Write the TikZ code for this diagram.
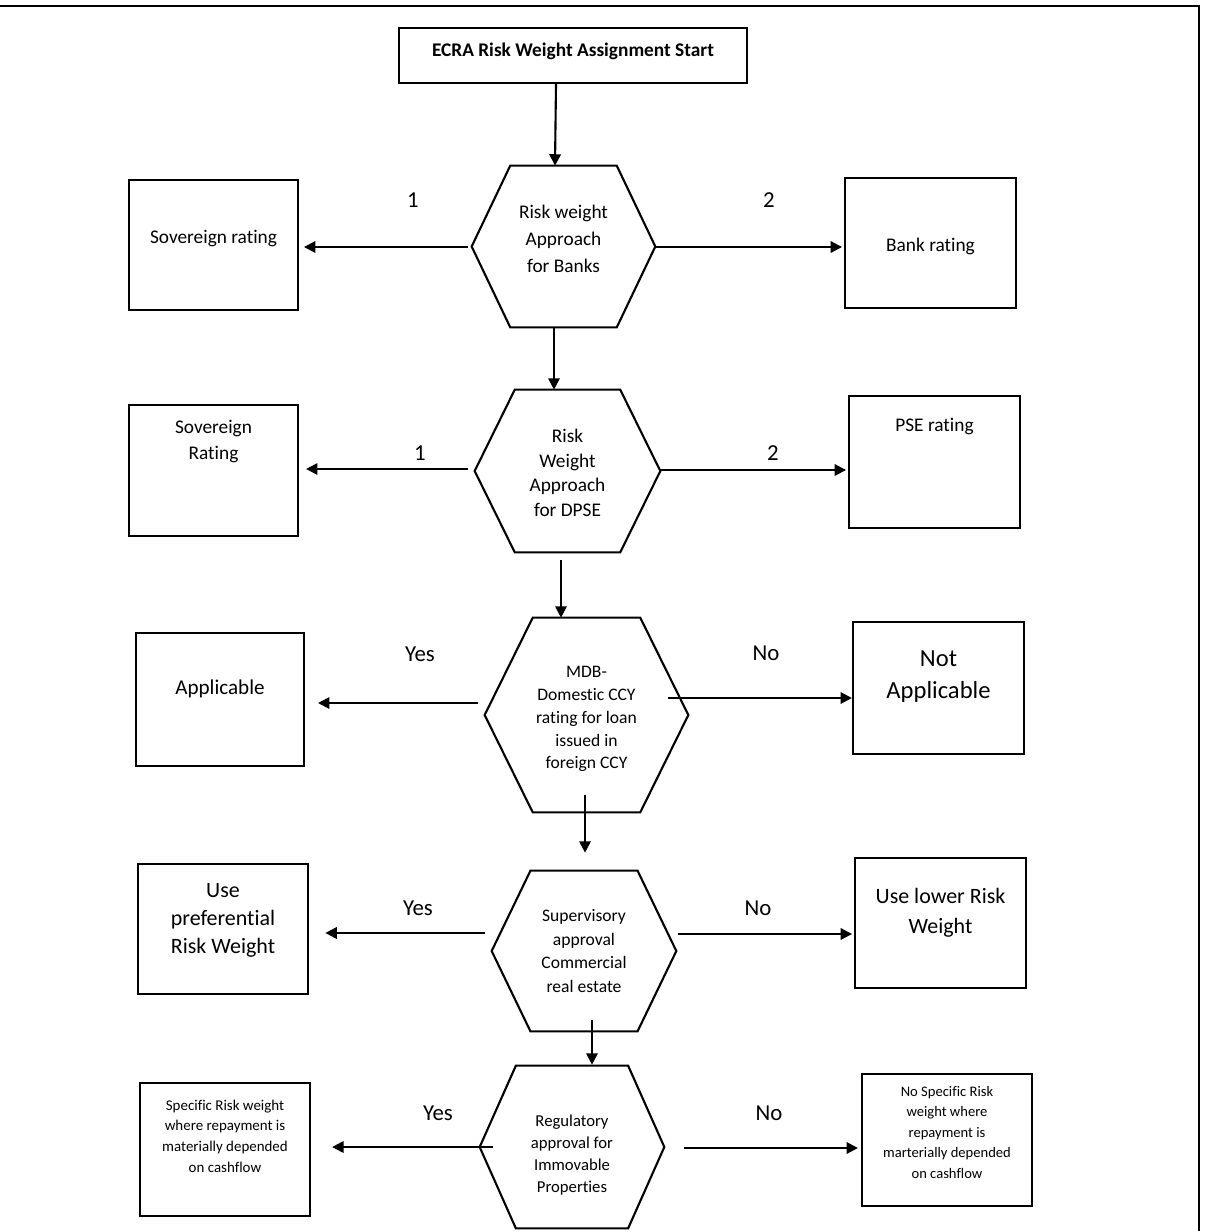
\documentclass[tikz,border=0pt]{standalone}
\usepackage{fontspec}
\setmainfont{Carlito}[Ligatures={NoCommon}]
\usetikzlibrary{arrows.meta,calc}
\newcommand\ctext[3]{\raisebox{#1}[0pt][0pt]{\parbox[c]{#2}{\centering #3}}}
\newcommand\hexpath[2]{%
  \draw[hexline] (#1.west) -- ($(#1.north west)!#2!(#1.north east)$) -- ($(#1.north east)!#2!(#1.north west)$) -- (#1.east) -- ($(#1.south east)!#2!(#1.south west)$) -- ($(#1.south west)!#2!(#1.south east)$) -- cycle;}
\begin{document}
\begin{tikzpicture}[x=0.02cm,y=-0.02cm,
  bx/.style={draw, line width=1.2pt, inner sep=0pt, rectangle},
  hexn/.style={inner sep=0pt, rectangle},
  hexline/.style={line width=1.2pt, line join=miter},
  arr/.style={line width=1.2pt, -{Triangle[length=6.5pt,width=6.5pt]}},
  lbl/.style={inner sep=0pt, font=\fontsize{13}{15}\selectfont},
]
\useasboundingbox (0,0) rectangle (1205,1231);
\draw[line width=1.4pt, line join=miter] (0,6) -- (1199,6) -- (1199,1231);

% boxes
\node[bx, minimum width=6.96cm, minimum height=1.1cm, font=\bfseries\fontsize{11}{14}\selectfont] (start) at (573,55.5)
  {\ctext{-0.2pt}{6.8cm}{ECRA Risk Weight Assignment Start}};
\node[bx, minimum width=3.38cm, minimum height=2.6cm, font=\fontsize{11}{15}\selectfont] (sov1) at (213.5,245)
  {\ctext{1.2pt}{3.3cm}{Sovereign rating}};
\node[bx, minimum width=3.42cm, minimum height=2.6cm, font=\fontsize{11}{15}\selectfont] (bank) at (930.5,243)
  {\ctext{-4.5pt}{3.3cm}{Bank rating}};
\node[bx, minimum width=3.38cm, minimum height=2.62cm, font=\fontsize{11}{14.8}\selectfont] (sov2) at (213.5,470.5)
  {\ctext{14pt}{3.3cm}{Sovereign\\Rating}};
\node[bx, minimum width=3.42cm, minimum height=2.64cm, font=\fontsize{11}{15}\selectfont] (pse) at (934.5,462)
  {\ctext{17.7pt}{3.3cm}{PSE rating}};
\node[bx, minimum width=3.36cm, minimum height=2.66cm, font=\fontsize{12}{15}\selectfont] (app) at (220,699.5)
  {\ctext{3pt}{3.3cm}{Applicable}};
\node[bx, minimum width=3.42cm, minimum height=2.64cm, font=\fontsize{14}{18.2}\selectfont] (notapp) at (938.5,688)
  {\ctext{2.8pt}{3.3cm}{Not\\Applicable}};
\node[bx, line width=1.6pt, minimum width=3.4cm, minimum height=2.6cm, font=\fontsize{12.5}{16}\selectfont] (pref) at (223,929)
  {\ctext{2pt}{3.3cm}{Use\\preferential\\Risk Weight}};
\node[bx, minimum width=3.42cm, minimum height=2.6cm, font=\fontsize{12.5}{17}\selectfont] (lower) at (940.5,923)
  {\ctext{2.6pt}{3.3cm}{Use lower Risk\\Weight}};
\node[bx, minimum width=3.4cm, minimum height=2.66cm, font=\fontsize{8.5}{11.8}\selectfont] (spec) at (225,1149.5)
  {\ctext{5.6pt}{3.3cm}{Specific Risk weight\\where repayment is\\materially depended\\on cashflow}};
\node[bx, minimum width=3.4cm, minimum height=2.64cm, font=\fontsize{8.3}{11.7}\selectfont] (nospec) at (947,1140)
  {\ctext{2.4pt}{3.3cm}{No Specific Risk\\weight where\\repayment is\\marterially depended\\on cashflow}};

% hexagons
\node[hexn, minimum width=3.66cm, minimum height=3.22cm, font=\fontsize{11}{15.4}\selectfont] (h1) at (563.5,246.5)
  {\ctext{1.5pt}{3cm}{Risk weight\\Approach\\for Banks}};
\hexpath{h1}{0.21}
\node[hexn, minimum width=3.7cm, minimum height=3.24cm, font=\fontsize{11}{14}\selectfont] (h2) at (567.5,471)
  {\ctext{-3.9pt}{3cm}{Risk\\Weight\\Approach\\for DPSE}};
\hexpath{h2}{0.216}
\node[hexn, minimum width=4.06cm, minimum height=3.88cm, font=\fontsize{10}{13}\selectfont] (h3) at (586.5,715)
  {\ctext{-4.8pt}{3.2cm}{MDB-\\Domestic CCY\\rating for loan\\issued in\\foreign CCY}};
\hexpath{h3}{0.236}
\node[hexn, minimum width=3.68cm, minimum height=3.2cm, font=\fontsize{10}{13.3}\selectfont] (h4) at (584,951)
  {\ctext{-2.5pt}{3cm}{Supervisory\\approval\\Commercial\\real estate}};
\hexpath{h4}{0.21}
\node[hexn, minimum width=3.68cm, minimum height=3.24cm, font=\fontsize{9.5}{12.5}\selectfont] (h5) at (572,1147)
  {\ctext{-7pt}{3cm}{Regulatory\\approval for\\Immovable\\Properties}};
\hexpath{h5}{0.196}

% connectors
\draw[arr] ([shift={(-17,0)}]start.south) -- ([shift={(-8.5,0)}]h1.north);
\draw[arr, shorten >=2.8pt] ([shift={(-4,0.5)}]h1.west) coordinate (a2) -- (a2 -| sov1.east);
\draw[arr, shorten >=1.1pt] ([shift={(0,0.5)}]h1.east) coordinate (a3) -- (a3 -| bank.west);
\draw[arr] ([shift={(-9.5,0)}]h1.south) -- ([shift={(-13.5,0)}]h2.north);
\draw[arr, shorten >=4pt] ([shift={(-7,-2)}]h2.west) coordinate (a5) -- (a5 -| sov2.east);
\draw[arr, shorten >=1.1pt] ([shift={(0,-1)}]h2.east) coordinate (a6) -- (a6 -| pse.west);
\draw[arr] ([shift={(-6.5,8)}]h2.south) -- ([shift={(-25.5,0)}]h3.north);
\draw[arr, shorten >=7.4pt] ([shift={(-7,-12)}]h3.west) coordinate (a8) -- (a8 -| app.east);
\draw[arr] ([shift={(-20,-17)}]h3.east) coordinate (a9) -- (a9 -| notapp.west);
\draw[arr] ([shift={(-1.5,-17)}]h3.south) -- ([shift={(1,-18)}]h4.north);
\draw[arr, shorten >=9.1pt] ([shift={(-7,-18)}]h4.west) coordinate (a11) -- (a11 -| pref.east);
\draw[arr, shorten >=1.1pt] ([shift={(2,-17)}]h4.east) coordinate (a12) -- (a12 -| lower.west);
\draw[arr] ([shift={(8,-11)}]h4.south) -- ([shift={(20,-1)}]h5.north);
\draw[arr, shorten >=12pt] ([shift={(13,0)}]h5.west) coordinate (a14) -- (a14 -| spec.east);
\draw[arr, shorten >=1.7pt] ([shift={(20,1)}]h5.east) coordinate (a15) -- (a15 -| nospec.west);

% labels
\node[lbl] (l1) at (413,200) {1};
\node[lbl] (l2) at (769,200) {2};
\node[lbl] (l3) at (420,453) {1};
\node[lbl] (l4) at (773,453) {2};
\node[lbl] (l5) at (420,654) {Yes};
\node[lbl] (l6) at (766,653) {No};
\node[lbl] (l7) at (418,908) {Yes};
\node[lbl] (l8) at (758,908) {No};
\node[lbl] (l9) at (438,1113) {Yes};
\node[lbl] (l10) at (769,1113) {No};
\end{tikzpicture}
\end{document}
